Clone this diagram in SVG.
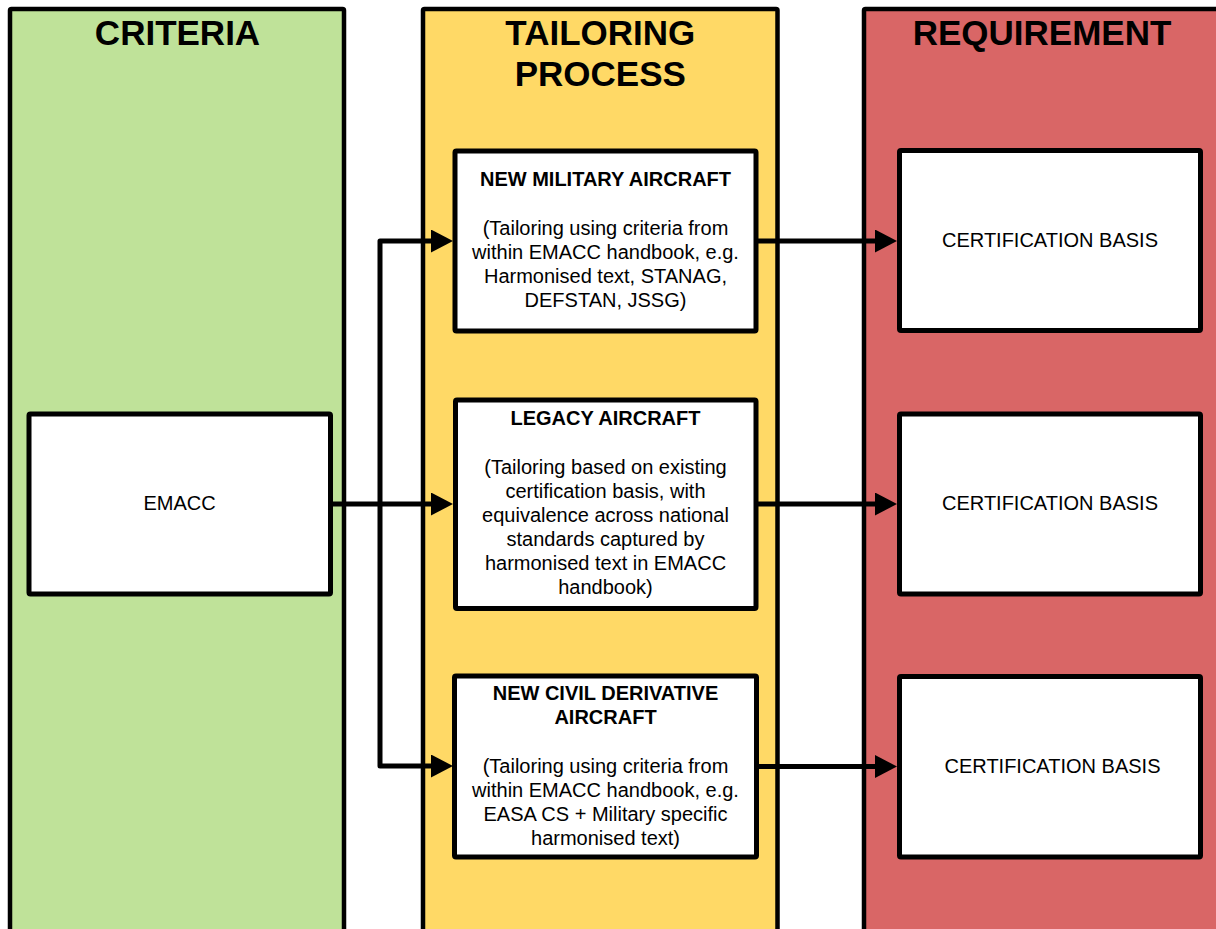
<svg xmlns="http://www.w3.org/2000/svg" width="1216" height="929" viewBox="0 0 1216 929">
<style>
.lane{stroke:#000;stroke-width:4.5;stroke-linejoin:round}
.box{fill:#fff;stroke:#000;stroke-width:5;stroke-linejoin:round}
.hdr{font-family:"Liberation Sans",Arial,sans-serif;font-weight:bold;font-size:35px;fill:#000;text-anchor:middle}
.t{font-family:"Liberation Sans",Arial,sans-serif;font-size:20px;fill:#000;text-anchor:middle}
.b{font-weight:bold}
.conn{fill:none;stroke:#000;stroke-width:5;stroke-linejoin:round}
</style>
<defs>
<marker id="ah" markerUnits="userSpaceOnUse" markerWidth="24" markerHeight="24" refX="9" refY="11.5" orient="auto">
<path d="M0,0 L22,11.5 L0,23 Z" fill="#000"/>
</marker>
</defs>
<rect width="1216" height="929" fill="#fff"/>
<g id="lane-criteria">
<rect class="lane" x="10" y="9" width="334" height="940" rx="1.5" fill="#BFE299"/>
<text class="hdr" x="177.5" y="45">CRITERIA</text>
</g>
<g id="lane-tailoring">
<rect class="lane" x="423" y="9" width="354.5" height="940" rx="1.5" fill="#FFD966"/>
<text class="hdr" x="600.3" y="45">TAILORING</text>
<text class="hdr" x="600.3" y="86">PROCESS</text>
</g>
<g id="lane-requirement">
<rect class="lane" x="864" y="9" width="358" height="940" rx="1.5" fill="#D96666"/>
<text class="hdr" x="1042" y="45">REQUIREMENT</text>
</g>
<g id="connectors">
<path class="conn" d="M330,504 H440" marker-end="url(#ah)"/>
<path class="conn" d="M380,504 V241 H440" marker-end="url(#ah)"/>
<path class="conn" d="M380,504 V766 H440" marker-end="url(#ah)"/>
<path class="conn" d="M756,241 H884" marker-end="url(#ah)"/>
<path class="conn" d="M756,504 H884" marker-end="url(#ah)"/>
<path class="conn" d="M756,766.5 H884" marker-end="url(#ah)"/>
</g>
<g id="node-emacc">
<rect class="box" x="29" y="414" width="301.5" height="180" rx="1.5"/>
<text class="t" x="179.5" y="509.5">EMACC</text>
</g>
<g id="node-new-military">
<rect class="box" x="455" y="151" width="301" height="180" rx="1.5"/>
<text class="t b" x="605.5" y="186">NEW MILITARY AIRCRAFT</text>
<text class="t" x="605.5" y="235">(Tailoring using criteria from</text>
<text class="t" x="605.5" y="259">within EMACC handbook, e.g.</text>
<text class="t" x="605.5" y="283">Harmonised text, STANAG,</text>
<text class="t" x="605.5" y="307">DEFSTAN, JSSG)</text>
</g>
<g id="node-legacy">
<rect class="box" x="455.5" y="400" width="300.5" height="208.5" rx="1.5"/>
<text class="t b" x="605.5" y="425">LEGACY AIRCRAFT</text>
<text class="t" x="605.5" y="473.5">(Tailoring based on existing</text>
<text class="t" x="605.5" y="497.5">certification basis, with</text>
<text class="t" x="605.5" y="521.5">equivalence across national</text>
<text class="t" x="605.5" y="545.5">standards captured by</text>
<text class="t" x="605.5" y="569.5">harmonised text in EMACC</text>
<text class="t" x="605.5" y="593.5">handbook)</text>
</g>
<g id="node-civil">
<rect class="box" x="454.5" y="676" width="302" height="181" rx="1.5"/>
<text class="t b" x="605.5" y="699.5">NEW CIVIL DERIVATIVE</text>
<text class="t b" x="605.5" y="724">AIRCRAFT</text>
<text class="t" x="605.5" y="773">(Tailoring using criteria from</text>
<text class="t" x="605.5" y="797">within EMACC handbook, e.g.</text>
<text class="t" x="605.5" y="821">EASA CS + Military specific</text>
<text class="t" x="605.5" y="845">harmonised text)</text>
</g>
<g id="node-cert-1">
<rect class="box" x="899.5" y="150.5" width="301" height="180" rx="1.5"/>
<text class="t" x="1050" y="247">CERTIFICATION BASIS</text>
</g>
<g id="node-cert-2">
<rect class="box" x="899.5" y="414" width="301" height="180" rx="1.5"/>
<text class="t" x="1050" y="510">CERTIFICATION BASIS</text>
</g>
<g id="node-cert-3">
<rect class="box" x="899.5" y="676.5" width="301" height="180.5" rx="1.5"/>
<text class="t" x="1052.5" y="773">CERTIFICATION BASIS</text>
</g>
</svg>
